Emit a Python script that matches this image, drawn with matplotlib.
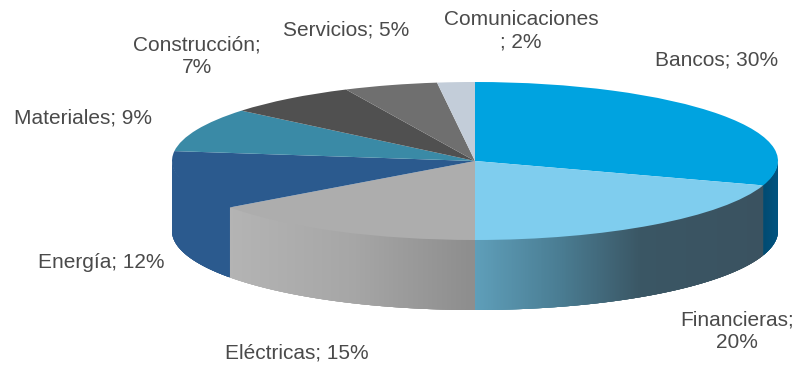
import numpy as np
import matplotlib
matplotlib.use("Agg")
import matplotlib.pyplot as plt
from matplotlib.collections import PolyCollection
from matplotlib.colors import to_rgb

categories = ["Bancos", "Financieras", "Eléctricas", "Energía", "Materiales",
              "Construcción", "Servicios", "Comunicaciones"]
values = [30, 20, 15, 12, 9, 7, 5, 2]
labels = ["Bancos; 30%", "Financieras;\n20%", "Eléctricas; 15%", "Energía; 12%",
          "Materiales; 9%", "Construcción;\n7%", "Servicios; 5%", "Comunicaciones\n; 2%"]

top_colors = ["#00A3E0", "#7FCDEE", "#ADADAD", "#2B5A8E", "#3A8AA6",
              "#505050", "#6F6F6F", "#C3CDD9"]
# wall shading: (x position on the unit ellipse, colour)
wall_stops = [
    [(0.9, "#01405F"), (0.99, "#01527E")],
    [(0.0, "#5F9FBA"), (0.28, "#4A7D93"), (0.55, "#3A5664"), (0.95, "#3A5260")],
    [(-0.81, "#B4B4B4"), (-0.4, "#A6A6A6"), (-0.02, "#8E8E8E")],
    [(-1.0, "#2B5A8E"), (-0.8, "#2B5A8E")],
]

W, H = 798, 366
CX, CY, RX, RY, DEPTH = 475, 161, 303, 79, 70

fig = plt.figure(figsize=(W / 100, H / 100), dpi=100, facecolor="white")
ax = fig.add_axes([0, 0, 1, 1])
plt.rcParams["font.family"] = ["Liberation Sans", "DejaVu Sans"]

wedges, _ = ax.pie(values, colors=top_colors, startangle=90, counterclock=False, radius=1,
                   wedgeprops=dict(linewidth=0))
for w in wedges:
    w.set_zorder(3)
ax.set_aspect("auto")
ax.set_xlim((0 - CX) / RX, (W - CX) / RX)
ax.set_ylim((CY - H) / RY, CY / RY)
ax.axis("off")

d = DEPTH / RY
edges = np.cumsum([0] + values) / sum(values) * 2 * np.pi
polys, cols = [], []
OVERLAP = 4
for i, stops in enumerate(wall_stops):
    a0 = max(edges[i], np.pi / 2)
    a1 = min(edges[i + 1], 3 * np.pi / 2)
    th = np.linspace(a0, a1, 401)
    xs = np.sin(th)
    ys = np.cos(th)
    px = [s[0] for s in stops]
    rgb = np.array([to_rgb(s[1]) for s in stops])
    for j in range(len(th) - 1):
        k = min(j + OVERLAP, len(th) - 1)
        seg_x = xs[j:k + 1]
        seg_y = ys[j:k + 1]
        # the upper edge runs just inside the top face, so no light seam shows
        polys.append(list(zip(seg_x, seg_y * 0.97)) + list(zip(seg_x[::-1], seg_y[::-1] - d)))
        cols.append([np.interp(xs[j], px, rgb[:, c]) for c in range(3)])
ax.add_collection(PolyCollection(polys, facecolors=cols, edgecolors="none",
                                 linewidths=0, zorder=2))

label_px = [(717, 60), (737, 331), (297, 353), (101, 263),
            (83, 118), (197, 56), (346, 30), (521, 31)]
for lab, (x, y) in zip(labels, label_px):
    fig.text(x / W, 1 - y / H, lab, ha="center", va="center", fontsize=15,
             color="#4A4A4A", linespacing=1.25)

fig.savefig("out.png", dpi=100, facecolor="white")
